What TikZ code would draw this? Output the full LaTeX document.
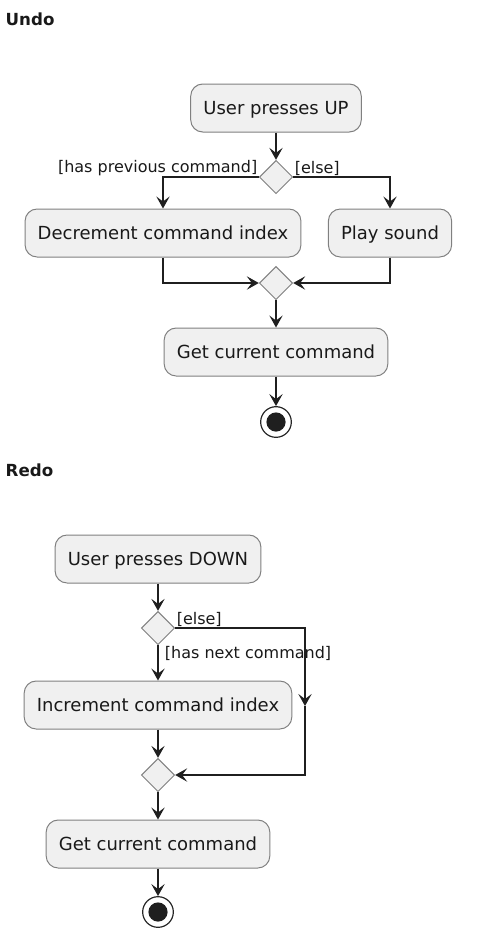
\documentclass[tikz,border=0pt]{standalone}
\usepackage{fontspec}
\setmainfont{DejaVu Sans}
\usetikzlibrary{arrows.meta,positioning,shapes.geometric}

\begin{document}
\begin{tikzpicture}[
    x=0.75pt, y=-0.75pt, % 以像素為單位
    >={Stealth[length=9pt,width=10pt,inset=3.8pt]},
    % 定義樣式
    title/.style={
        anchor=west,
        font=\fontsize{12.5}{14}\selectfont\bfseries,
        text=black!90
    },
    action/.style={
        draw=black!50,
        fill=black!6,
        rounded corners=9pt,
        minimum height=36pt,
        inner xsep=9.5pt,
        text height=11pt,
        text depth=2pt,
        line width=0.75pt,
        text=black!90,
        font=\fontsize{13.5}{16}\selectfont
    },
    choice/.style={
        diamond,
        draw=black!50,
        fill=black!6,
        minimum size=25pt,
        inner sep=0pt,
        line width=0.75pt
    },
    stopnode/.style={
        circle,
        draw=black!85,
        fill=white,
        minimum size=23pt,
        inner sep=0pt,
        line width=0.9pt,
        path picture={\fill[black!88] (path picture bounding box.center) circle (7.2pt);}
    },
    guard/.style={
        inner sep=1pt,
        text=black!90,
        font=\fontsize{12}{14}\selectfont
    },
    flow/.style={->, line width=1.1pt, draw=black!88}
]
    \useasboundingbox (0,0) rectangle (498,943);

    % --- 1. Undo ---
    \node[title] (undoT) at (1,19) {Undo};
    \node[action] (upA) at (276,108) {User presses UP};
    \node[choice] (chkA) at (276,177) {};
    \node[action] (decA) at (163,233) {Decrement command index};
    \node[action] (playA) at (390,233) {Play sound};
    \node[choice] (mergeA) at (276,283) {};
    \node[action] (getA) at (276,352) {Get current command};
    \node[stopnode] (stopA) at (276,422) {};

    \node[guard, anchor=south east] (prevA) at (chkA.west) {[has previous command]};
    \node[guard, anchor=south west] (elseA) at (chkA.east) {[else]};

    \draw[flow] (upA) -- (chkA);
    \draw[flow] (chkA.west) -| (decA);
    \draw[flow] (chkA.east) -| (playA);
    \draw[flow] (decA) |- (mergeA);
    \draw[flow] (playA) |- (mergeA);
    \draw[flow] (mergeA) -- (getA);
    \draw[flow] (getA) -- (stopA);

    % --- 2. Redo ---
    \node[title] (redoT) at (1,470) {Redo};
    \node[action] (downB) at (158,559) {User presses DOWN};
    \node[choice] (chkB) at (158,628) {};
    \node[action] (incB) at (158,705) {Increment command index};
    \node[choice] (mergeB) at (158,775) {};
    \node[action] (getB) at (158,844) {Get current command};
    \node[stopnode] (stopB) at (158,912) {};
    \coordinate (elseB) at (305,706); % 箭頭在中間

    \node[guard, anchor=south west] (elseLB) at (chkB.east) {[else]};
    \node[guard, anchor=north west, xshift=4pt] (nextB) at (chkB.south) {[has next command]};

    \draw[flow] (downB) -- (chkB);
    \draw[flow] (chkB) -- (incB);
    \draw[flow] (chkB.east) -| (elseB);
    \draw[flow] (elseB) |- (mergeB);
    \draw[flow] (incB) -- (mergeB);
    \draw[flow] (mergeB) -- (getB);
    \draw[flow] (getB) -- (stopB);

\end{tikzpicture}
\end{document}
